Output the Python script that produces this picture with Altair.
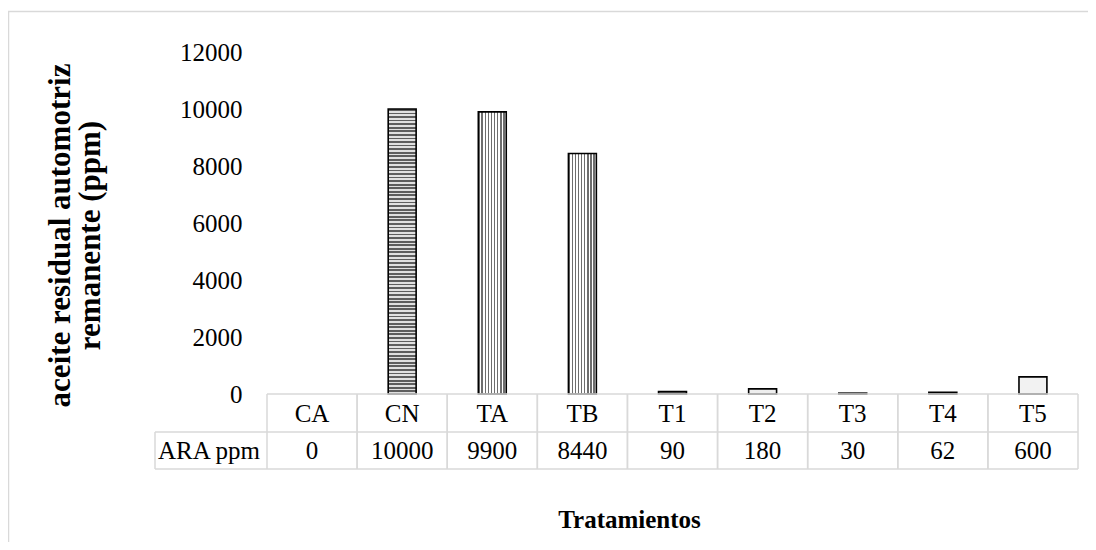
import altair as alt
import pandas as pd

# ---- data ----
categories = ["CA", "CN", "TA", "TB", "T1", "T2", "T3", "T4", "T5"]
values = [0, 10000, 9900, 8440, 90, 180, 30, 62, 600]
row_label = "ARA ppm"
y_ticks = [0, 2000, 4000, 6000, 8000, 10000, 12000]
y_title = ["aceite residual automotriz", "remanente (ppm)"]
x_title = "Tratamientos"

df = pd.DataFrame({"cat": categories, "value": values})
df["label"] = [str(v) for v in values]

W, H = 811, 342
FONT = "Liberation Serif"
GRID = "#d9d9d9"
LEFT = -112  # left edge of the row-label cell, relative to the plot


def stripes(n, c1, c2, vertical=True):
    stops = []
    for i in range(n):
        a, b, c = i / n, (i + 0.5) / n, (i + 1) / n
        stops += [alt.GradientStop(color=c1, offset=a), alt.GradientStop(color=c1, offset=b),
                  alt.GradientStop(color=c2, offset=b), alt.GradientStop(color=c2, offset=c)]
    if vertical:
        return alt.LinearGradient(gradient="linear", stops=stops, x1=0, x2=1, y1=0, y2=0)
    return alt.LinearGradient(gradient="linear", stops=stops, x1=0, x2=0, y1=0, y2=1)


pattern_of = {
    "CN": stripes(80, "#5e5e5e", "#e0e0e0", vertical=False),
    "TA": stripes(9, "#6e6e6e", "#ffffff"),
    "TB": stripes(9, "#6e6e6e", "#ffffff"),
    "T1": "#595959",
    "T2": "#eeeeee",
    "T3": "#7f7f7f",
    "T4": "#404040",
    "T5": "#f2f2f2",
}

xscale = alt.Scale(domain=categories, paddingInner=0, paddingOuter=0)
xaxis = alt.Axis(title=x_title, labels=False, ticks=False, domain=False, grid=False,
                 titleFont=FONT, titleFontSize=25, titleFontWeight="bold", titleColor="black",
                 titleX=362, titleY=133, titleBaseline="alphabetic")


def xenc(**kw):
    return alt.X("cat:N", scale=xscale, sort=categories, axis=xaxis, **kw)


yenc = alt.Y("value:Q", scale=alt.Scale(domain=[0, 12000], nice=False),
             axis=alt.Axis(values=y_ticks, format="d", title=y_title, ticks=False, domain=False,
                           grid=False, labelFont=FONT, labelFontSize=25, labelColor="black",
                           labelPadding=25, labelBaseline="middle",
                           titleFont=FONT, titleFontSize=31, titleFontWeight="bold", titleColor="black",
                           titleAngle=270, titleAlign="center", titleBaseline="middle",
                           titleLineHeight=30, titleX=-207, titleY=183))

base = alt.Chart(df)
layers = []

# outer chart frame
one = alt.Chart(pd.DataFrame({"a": [0]}))
layers.append(one.mark_rect(fill="transparent", stroke=GRID, strokeWidth=1.5).encode(
    x=alt.value(-258.5), x2=alt.value(W + 60), y=alt.value(-40.5), y2=alt.value(H + 200)))

# bars
for cat, fill in pattern_of.items():
    layers.append(base.transform_filter(alt.datum.cat == cat).transform_filter(alt.datum.value > 0)
                  .mark_bar(width=alt.RelativeBandSize(0.31), fill=fill, stroke="black", strokeWidth=1.6)
                  .encode(x=xenc(), y=yenc))

# data table grid
layers.append(base.mark_rule(color=GRID, strokeWidth=1.5).encode(
    x=xenc(bandPosition=0), y=alt.value(H), y2=alt.value(H + 75)))
layers.append(base.mark_rule(color=GRID, strokeWidth=1.5).encode(
    x=xenc(bandPosition=1), y=alt.value(H), y2=alt.value(H + 75)))
layers.append(one.mark_rule(color=GRID, strokeWidth=1.5).encode(
    x=alt.value(0), x2=alt.value(W), y=alt.value(H)))
layers.append(one.mark_rule(color=GRID, strokeWidth=1.5).encode(
    x=alt.value(LEFT), x2=alt.value(W), y=alt.value(H + 38)))
layers.append(one.mark_rule(color=GRID, strokeWidth=1.5).encode(
    x=alt.value(LEFT), x2=alt.value(W), y=alt.value(H + 75)))
layers.append(one.mark_rule(color=GRID, strokeWidth=1.5).encode(
    x=alt.value(LEFT), y=alt.value(H + 38), y2=alt.value(H + 75)))

# data table text
layers.append(base.mark_text(font=FONT, fontSize=25, color="black", baseline="middle").encode(
    x=xenc(), y=alt.value(H + 20), text="cat:N"))
layers.append(base.mark_text(font=FONT, fontSize=25, color="black", baseline="middle").encode(
    x=xenc(), y=alt.value(H + 57), text="label:N"))
layers.append(alt.Chart(pd.DataFrame({"t": [row_label]})).mark_text(
    font=FONT, fontSize=25, color="black", baseline="middle").encode(
    x=alt.value(LEFT / 2 - 2), y=alt.value(H + 57), text="t:N"))

chart = alt.layer(*layers).properties(
    width=W, height=H,
    padding={"left": 259, "top": 44, "right": 10, "bottom": 148},
    autosize=alt.AutoSizeParams(type="none"),
).configure_view(stroke="transparent")

chart.save("out.html", embed_options={"renderer": "svg", "actions": False})
